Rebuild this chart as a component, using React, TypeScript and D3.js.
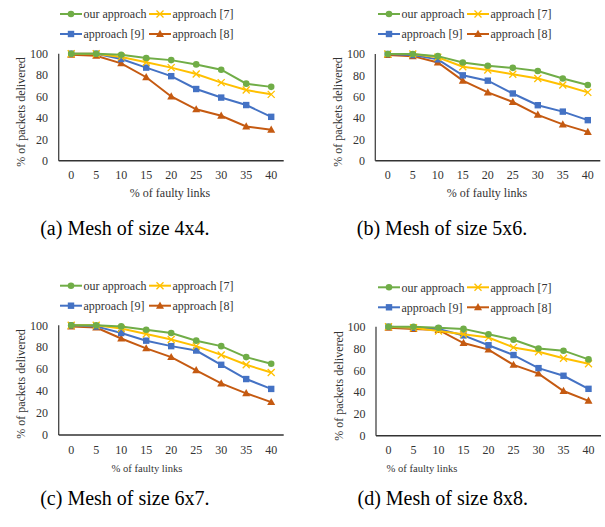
import React from "react";
import * as d3 from "d3";

// faulty links (%)
const faultyLinks = ["0", "5", "10", "15", "20", "25", "30", "35", "40"];
const yTicks = [0, 20, 40, 60, 80, 100];

const seriesNames = ["our approach", "approach [7]", "approach [9]", "approach [8]"];
const seriesColors = ["#70ad47", "#ffc000", "#4472c4", "#c55a11"];
const seriesMarkers = ["circle", "cross", "square", "triangle"];

// (a) mesh 4x4
const oursA = [100, 100, 99, 96, 94, 90, 85, 72, 69];
const ref7A = [100, 100, 97, 92, 87, 81, 73, 66, 62];
const ref9A = [100, 100, 95, 87, 79, 67, 59, 52, 41];
const ref8A = [99, 98, 91, 78, 60, 48, 42, 32, 29];

// (b) mesh 5x6
const oursB = [100, 100, 98, 92, 89, 87, 84, 77, 71];
const ref7B = [100, 100, 97, 88, 85, 81, 77, 71, 64];
const ref9B = [100, 99, 95, 80, 75, 63, 52, 46, 38];
const ref8B = [99, 98, 92, 75, 64, 55, 43, 34, 27];

// (c) mesh 6x7
const oursC = [100, 100, 99, 96, 93, 86, 81, 71, 65];
const ref7C = [100, 100, 97, 92, 87, 81, 73, 64, 57];
const ref9C = [100, 99, 93, 86, 81, 77, 64, 51, 42];
const ref8C = [99, 98, 88, 79, 71, 59, 47, 38, 30];

// (d) mesh 8x8
const oursD = [100, 100, 99, 98, 93, 88, 80, 78, 70];
const ref7D = [100, 99, 96, 93, 90, 81, 77, 71, 66];
const ref9D = [100, 99, 98, 92, 83, 74, 62, 55, 43];
const ref8D = [99, 98, 97, 85, 79, 65, 57, 41, 32];

const captions = ["(a) Mesh of size 4x4.", "(b) Mesh of size 5x6.", "(c) Mesh of size 6x7.", "(d) Mesh of size 8x8."];

const FONT = "'Liberation Serif', 'Times New Roman', serif";
const TXT = "#333";

function Marker({ kind, x, y, color }: { kind: string; x: number; y: number; color: string }) {
  if (kind === "circle") return <circle cx={x} cy={y} r={3.3} fill={color} />;
  if (kind === "square") return <rect x={x - 3.2} y={y - 3.2} width={6.4} height={6.4} fill={color} />;
  if (kind === "triangle") {
    const p = d3.path();
    p.moveTo(x, y - 4.2);
    p.lineTo(x + 4, y + 3);
    p.lineTo(x - 4, y + 3);
    p.closePath();
    return <path d={p.toString()} fill={color} />;
  }
  return (
    <path d={`M${x - 3.5},${y - 3.5}L${x + 3.5},${y + 3.5}M${x - 3.5},${y + 3.5}L${x + 3.5},${y - 3.5}`} stroke={color} strokeWidth={1.3} />
  );
}

type PanelProps = {
  series: number[][];
  axisX: number;
  baseY: number;
  topY: number;
  legendY: number;
  legendX: number;
  yLabelX: number;
  titleX: number;
  titleY: number;
  titleSize: number;
  yTitleY: number;
  caption: string;
  captionY: number;
};

function Panel(p: PanelProps) {
  const x = d3.scalePoint<string>().domain(faultyLinks).range([p.axisX, p.axisX + 225]).padding(0.5);
  const y = d3.scaleLinear().domain([0, 100]).range([p.baseY, p.topY]);
  const line = d3
    .line<number>()
    .x((_, i) => x(faultyLinks[i])!)
    .y((d) => y(d));
  // draw order: triangle under, then square, cross, circle on top
  const order = [3, 2, 1, 0];
  return (
    <g fontFamily={FONT}>
      {/* legend */}
      {seriesNames.map((name, i) => {
        const lx = p.legendX + (i % 2) * 89;
        const ly = p.legendY + Math.floor(i / 2) * 20;
        return (
          <g key={name}>
            <line x1={lx} x2={lx + 22} y1={ly} y2={ly} stroke={seriesColors[i]} strokeWidth={2} />
            <Marker kind={seriesMarkers[i]} x={lx + 11} y={ly} color={seriesColors[i]} />
            <text x={lx + 23.5} y={ly} dy="0.35em" fontSize={12} fill={TXT}>
              {name}
            </text>
          </g>
        );
      })}
      {/* axes */}
      <line x1={p.axisX} x2={p.axisX} y1={p.topY} y2={p.baseY} stroke="#444" strokeWidth={1.3} />
      <line x1={p.axisX} x2={p.axisX + 225} y1={p.baseY} y2={p.baseY} stroke="#333" strokeWidth={1.5} />
      {yTicks.map((t) => (
        <text key={t} x={p.yLabelX} y={y(t)} dy="0.35em" textAnchor="end" fontSize={12} fill={TXT}>
          {t}
        </text>
      ))}
      {faultyLinks.map((c) => (
        <text key={c} x={x(c)} y={p.baseY + 14.5} dy="0.35em" textAnchor="middle" fontSize={12} fill={TXT}>
          {c}
        </text>
      ))}
      <text x={p.titleX} y={p.titleY} dy="0.35em" textAnchor="middle" fontSize={p.titleSize} fill={TXT}>
        % of faulty links
      </text>
      <text
        transform={`translate(${p.yLabelX - 27},${p.yTitleY}) rotate(-90)`}
        dy="0.35em"
        textAnchor="middle"
        fontSize={12}
        fill={TXT}
      >
        % of packets delivered
      </text>
      {/* series */}
      {order.map((s) => (
        <g key={s}>
          <path d={line(p.series[s])!} fill="none" stroke={seriesColors[s]} strokeWidth={2} />
          {p.series[s].map((v, i) => (
            <Marker key={i} kind={seriesMarkers[s]} x={x(faultyLinks[i])!} y={y(v)} color={seriesColors[s]} />
          ))}
        </g>
      ))}
      <text x={p.axisX - 18.5} y={p.captionY} fontSize={20} fill="#000">
        {p.caption}
      </text>
    </g>
  );
}

export default function App() {
  return (
    <svg width={605} height={527} style={{ position: "absolute", left: 0, top: 0, background: "#fff" }}>
      <rect width={605} height={527} fill="#fff" />
      <Panel
        series={[oursA, ref7A, ref9A, ref8A]}
        axisX={58.7}
        baseY={160.7}
        topY={53.7}
        legendX={60}
        legendY={14}
        yLabelX={48}
        titleX={170}
        titleY={193}
        titleSize={12}
        yTitleY={112}
        caption={captions[0]}
        captionY={235}
      />
      <Panel
        series={[oursB, ref7B, ref9B, ref8B]}
        axisX={375.3}
        baseY={160.7}
        topY={54}
        legendX={378}
        legendY={14}
        yLabelX={365}
        titleX={487}
        titleY={193}
        titleSize={12}
        yTitleY={112}
        caption={captions[1]}
        captionY={235}
      />
      <Panel
        series={[oursC, ref7C, ref9C, ref8C]}
        axisX={58.7}
        baseY={435}
        topY={325.3}
        legendX={60}
        legendY={285.7}
        yLabelX={48}
        titleX={147}
        titleY={468}
        titleSize={10.6}
        yTitleY={384}
        caption={captions[2]}
        captionY={505}
      />
      <Panel
        series={[oursD, ref7D, ref9D, ref8D]}
        axisX={376}
        baseY={435.7}
        topY={326.7}
        legendX={378}
        legendY={287.3}
        yLabelX={365.5}
        titleX={422}
        titleY={468}
        titleSize={10.6}
        yTitleY={386}
        caption={captions[3]}
        captionY={505}
      />
    </svg>
  );
}
